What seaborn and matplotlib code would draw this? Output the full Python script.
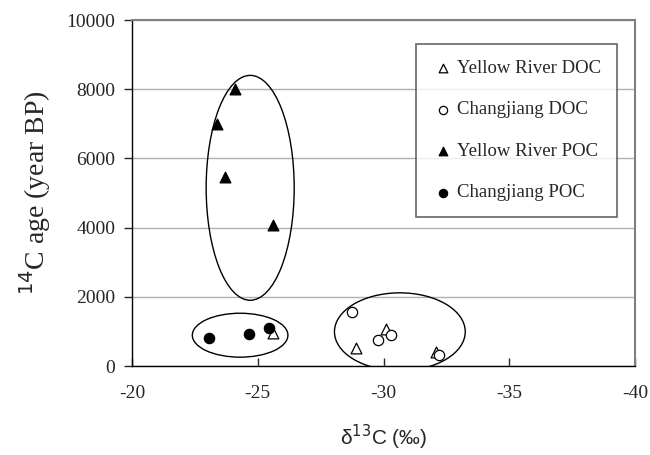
import matplotlib
matplotlib.use('Agg')
import matplotlib.pyplot as plt
from matplotlib.patches import Ellipse
import seaborn as sns
import pandas as pd

sns.set_style('white')
plt.rcParams['font.family'] = ['Liberation Serif', 'DejaVu Serif']
plt.rcParams['axes.unicode_minus'] = False

# d13C (permil) and 14C age (year BP)
yr_doc_d13c = [-25.6, -28.9, -30.1, -32.1]
yr_doc_age = [945, 510, 1060, 410]
cj_doc_d13c = [-28.75, -29.8, -30.3, -32.2]
cj_doc_age = [1550, 750, 900, 320]
yr_poc_d13c = [-24.1, -23.4, -23.7, -25.6]
yr_poc_age = [8000, 7000, 5450, 4080]
cj_poc_d13c = [-23.05, -24.65, -25.45]
cj_poc_age = [820, 915, 1090]

# groups drawn as ellipses: centre x, centre y, width, height
ell_cx = [-24.7, -24.3, -30.65]
ell_cy = [5150, 890, 990]
ell_w = [3.5, 3.8, 5.2]
ell_h = [6500, 1270, 2250]

groups = ['Yellow River DOC', 'Changjiang DOC', 'Yellow River POC', 'Changjiang POC']
rows = []
for g, xs, ys in zip(groups, [yr_doc_d13c, cj_doc_d13c, yr_poc_d13c, cj_poc_d13c],
                     [yr_doc_age, cj_doc_age, yr_poc_age, cj_poc_age]):
    for x, y in zip(xs, ys):
        rows.append([g, x, y])
df = pd.DataFrame(rows, columns=['group', 'd13c', 'age'])

fig = plt.figure(figsize=(6.5, 4.55), dpi=100)
ax = fig.add_axes([0.203, 0.1956, 0.774, 0.7604])

styles = {'Yellow River DOC': ('^', 'white', 60),
          'Changjiang DOC': ('o', 'white', 55),
          'Yellow River POC': ('^', 'black', 60),
          'Changjiang POC': ('o', 'black', 55)}
for g in groups:
    m, fc, s = styles[g]
    sns.scatterplot(data=df[df['group'] == g], x='d13c', y='age', marker=m, color=fc,
                    edgecolor='black', linewidth=0.9, s=s, label=g, ax=ax, zorder=3)

# circled groups
for cx, cy, w, h in zip(ell_cx, ell_cy, ell_w, ell_h):
    ax.add_patch(Ellipse((cx, cy), w, h, fill=False, edgecolor='black', linewidth=1.0, zorder=2))

ax.set_xlim(-20, -40)
ax.set_ylim(0, 10000)
ax.set_xticks([-20, -25, -30, -35, -40])
ax.set_yticks(range(0, 10001, 2000))
ax.yaxis.grid(True, color='#b0b0b0', linewidth=1.0)
ax.set_axisbelow(True)

for side in ['top', 'right']:
    ax.spines[side].set_color('#808080')
    ax.spines[side].set_linewidth(1.5)
for side in ['left', 'bottom']:
    ax.spines[side].set_color('black')
    ax.spines[side].set_linewidth(1.0)

ax.tick_params(axis='y', direction='out', length=6, width=1, left=True, labelsize=14, pad=6)
ax.tick_params(axis='x', direction='in', length=6, width=1, bottom=True, labelsize=14, pad=14)

ax.set_ylabel('$^{14}$C age (year BP)', fontsize=20, labelpad=10)
ax.set_xlabel('δ$^{13}$C (‰)', fontsize=15, labelpad=15, family=['Liberation Sans', 'DejaVu Sans'])

leg = ax.legend(loc='upper left', bbox_to_anchor=(0.565, 0.931), frameon=True, fancybox=False,
                edgecolor='#404040', fontsize=13.5, labelspacing=1.3, handletextpad=0.1,
                handlelength=1.2, borderpad=0.85, borderaxespad=0, markerscale=0.8)
leg.get_frame().set_linewidth(1.2)

fig.savefig('out.png', dpi=100)
